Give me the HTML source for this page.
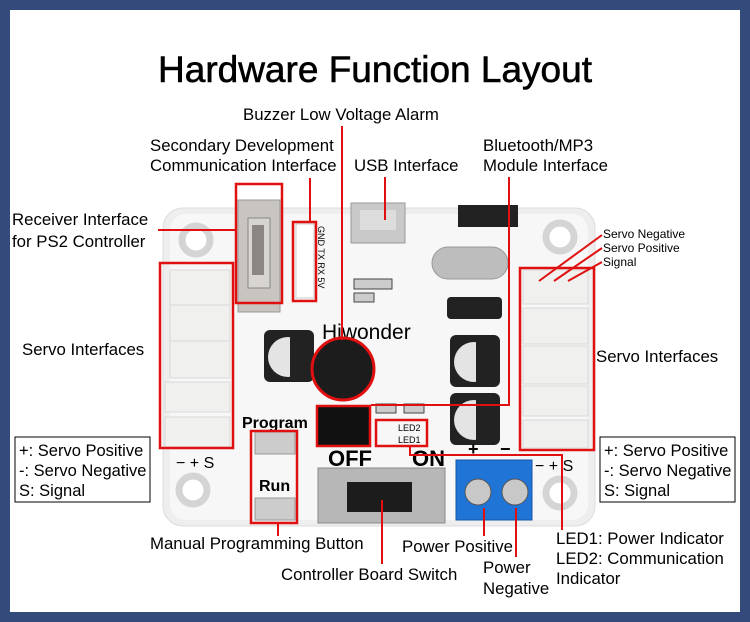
<!DOCTYPE html>
<html><head><meta charset="utf-8"><style>
html,body{margin:0;padding:0;background:#fff}
svg{display:block}
text{font-family:"Liberation Sans",sans-serif;fill:#000}
</style></head><body>
<svg width="750" height="622" viewBox="0 0 750 622" xmlns="http://www.w3.org/2000/svg">
<rect x="0" y="0" width="750" height="622" fill="#334a7a"/>
<rect x="10" y="10" width="730" height="602" fill="#fff"/>
<text x="375" y="82" font-size="37" text-anchor="middle" stroke="#000" stroke-width="0.6">Hardware Function Layout</text>

<rect x="163" y="208" width="432" height="318" rx="20" fill="#eeeeee" stroke="#dcdcdc"/>
<rect x="170" y="214" width="418" height="306" rx="16" fill="#f7f7f7"/>
<g fill="#fff" stroke="#d4d4d4" stroke-width="7">
<circle cx="196" cy="240" r="14"/><circle cx="560" cy="237" r="14"/>
<circle cx="193" cy="490" r="14"/><circle cx="560" cy="493" r="14"/>
</g>
<g fill="#f0f0ee" stroke="#d8d8d8">
<rect x="170" y="270" width="60" height="35"/><rect x="170" y="305" width="60" height="36"/>
<rect x="170" y="341" width="60" height="37"/><rect x="165" y="382" width="65" height="30"/>
<rect x="165" y="417" width="65" height="30"/>
<rect x="523" y="270" width="65" height="34"/><rect x="523" y="308" width="65" height="36"/>
<rect x="523" y="346" width="65" height="38"/><rect x="523" y="386" width="65" height="30"/>
<rect x="523" y="420" width="65" height="28"/>
</g>
<rect x="238" y="200" width="42" height="112" fill="#c8c4c0" stroke="#999"/>
<rect x="248" y="218" width="22" height="70" fill="#d8d5d0" stroke="#888"/>
<rect x="252" y="225" width="12" height="50" fill="#8a8782"/>
<rect x="296" y="224" width="18" height="74" fill="#fff" stroke="#ccc"/>
<text x="0" y="0" font-size="9" transform="translate(318,226) rotate(90)">GND TX RX 5V</text>
<rect x="351" y="203" width="54" height="40" fill="#c9c9c9" stroke="#999"/>
<rect x="360" y="210" width="36" height="20" fill="#ddd"/>
<rect x="458" y="205" width="60" height="22" fill="#222"/>
<rect x="432" y="247" width="76" height="32" rx="16" fill="#bdbdbd" stroke="#999"/>
<rect x="447" y="297" width="55" height="22" rx="4" fill="#222"/>
<rect x="354" y="279" width="38" height="10" fill="#ccc" stroke="#444"/>
<rect x="354" y="293" width="20" height="9" fill="#ccc" stroke="#444"/>
<text x="322" y="339" font-size="21">Hiwonder</text>
<g>
<rect x="264" y="330" width="50" height="52" rx="6" fill="#222"/><circle cx="288" cy="357" r="20" fill="#e4e4e4"/>
<path d="M290 337 A20 20 0 0 1 290 377 Z" fill="#222"/>
<rect x="450" y="335" width="50" height="52" rx="6" fill="#222"/><circle cx="474" cy="362" r="20" fill="#e4e4e4"/>
<path d="M476 342 A20 20 0 0 1 476 382 Z" fill="#222"/>
<rect x="450" y="393" width="50" height="52" rx="6" fill="#222"/><circle cx="474" cy="420" r="20" fill="#e4e4e4"/>
<path d="M476 400 A20 20 0 0 1 476 440 Z" fill="#222"/>
</g>
<circle cx="343" cy="369" r="31" fill="#1c1c1c" stroke="#e01010" stroke-width="3"/>
<rect x="317" y="406" width="53" height="40" fill="#111" stroke="#e01010" stroke-width="2.5"/>
<rect x="376" y="404" width="20" height="9" fill="#ccc" stroke="#444"/>
<rect x="404" y="404" width="20" height="9" fill="#ccc" stroke="#444"/>
<rect x="376" y="420" width="51" height="26" fill="none" stroke="#e01010" stroke-width="2.5"/>
<text x="398" y="431" font-size="9">LED2</text><text x="398" y="443" font-size="9">LED1</text>
<text x="242" y="428" font-size="16" font-weight="bold" font-family="Liberation Serif">Program</text>
<text x="259" y="491" font-size="16" font-weight="bold" font-family="Liberation Serif">Run</text>
<rect x="255" y="432" width="40" height="22" fill="#ccc" stroke="#999"/>
<rect x="255" y="498" width="40" height="22" fill="#ccc" stroke="#999"/>
<rect x="251" y="431" width="46" height="92" fill="none" stroke="#e01010" stroke-width="2.5"/>
<text x="328" y="466" font-size="22" font-weight="bold">OFF</text>
<text x="412" y="466" font-size="22" font-weight="bold">ON</text>
<rect x="318" y="468" width="127" height="55" fill="#b7b7b7" stroke="#888"/>
<rect x="347" y="482" width="65" height="30" fill="#1c1c1c"/>
<text x="468" y="455" font-size="18" font-weight="bold">+</text>
<text x="500" y="455" font-size="18" font-weight="bold">−</text>
<rect x="456" y="460" width="76" height="60" fill="#1f74d6" stroke="#1456a8"/>
<circle cx="478" cy="492" r="13" fill="#c8c8c8" stroke="#555"/>
<circle cx="515" cy="492" r="13" fill="#c8c8c8" stroke="#555"/>
<text x="176" y="468" font-size="16">− + S</text>
<text x="535" y="471" font-size="16">− + S</text>

<g fill="none" stroke="#e01010" stroke-width="2.5">
<rect x="160" y="263" width="73" height="185"/>
<rect x="236" y="184" width="46" height="119"/>
<rect x="293" y="222" width="23" height="79"/>
<rect x="520" y="268" width="74" height="182"/>
</g>
<g stroke="#e01010" stroke-width="2" fill="none">
<line x1="342" y1="126" x2="342" y2="340"/>
<line x1="310" y1="178" x2="310" y2="222"/>
<line x1="385" y1="177" x2="385" y2="220"/>
<polyline points="509,177 509,405 371,405"/>
<line x1="158" y1="230" x2="236" y2="230"/>
<line x1="539" y1="281" x2="602" y2="235"/>
<line x1="554" y1="281" x2="602" y2="248"/>
<line x1="568" y1="281" x2="602" y2="262"/>
<line x1="278" y1="523" x2="278" y2="536"/>
<line x1="382" y1="500" x2="382" y2="564"/>
<line x1="484" y1="508" x2="484" y2="536"/>
<line x1="516" y1="508" x2="516" y2="557"/>
<polyline points="410,446 410,455 562,455 562,530"/>
</g>

<g font-size="16.8">
<text x="243" y="120">Buzzer Low Voltage Alarm</text>
<text x="150" y="151">Secondary Development</text>
<text x="150" y="171">Communication Interface</text>
<text x="354" y="171">USB Interface</text>
<text x="483" y="151">Bluetooth/MP3</text>
<text x="483" y="171">Module Interface</text>
<text x="12" y="225">Receiver Interface</text>
<text x="12" y="247">for PS2 Controller</text>
<text x="22" y="355">Servo Interfaces</text>
<text x="596" y="362">Servo Interfaces</text>
<text x="150" y="549">Manual Programming Button</text>
<text x="281" y="580">Controller Board Switch</text>
<text x="402" y="552">Power Positive</text>
<text x="483" y="573">Power</text>
<text x="483" y="594">Negative</text>
<text x="556" y="544">LED1: Power Indicator</text>
<text x="556" y="564">LED2: Communication</text>
<text x="556" y="584">Indicator</text>
</g>
<g font-size="12">
<text x="603" y="238">Servo Negative</text>
<text x="603" y="252">Servo Positive</text>
<text x="603" y="266">Signal</text>
</g>
<rect x="15" y="437" width="135" height="65" fill="none" stroke="#000"/>
<rect x="600" y="437" width="135" height="65" fill="none" stroke="#000"/>
<g font-size="16.5">
<text x="19" y="456">+: Servo Positive</text>
<text x="19" y="476">-: Servo Negative</text>
<text x="19" y="496">S: Signal</text>
<text x="604" y="456">+: Servo Positive</text>
<text x="604" y="476">-: Servo Negative</text>
<text x="604" y="496">S: Signal</text>
</g>
</svg>
</body></html>
